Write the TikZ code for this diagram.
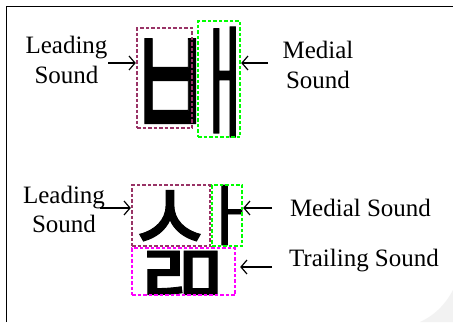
\documentclass[tikz,border=0pt]{standalone}
\usepackage{fontspec}
\setmainfont{Liberation Serif}
\newfontfamily\kr{Noto Sans CJK KR}[FakeBold=1]
\usetikzlibrary{arrows.meta}
\definecolor{leadc}{HTML}{993366}
\definecolor{medc}{HTML}{00FF00}
\definecolor{trailc}{HTML}{FF00FF}
% #1 ink width, #2 scaled box width, #3 total height, #4 char
\newcommand{\jamo}[4]{\makebox[#1pt]{\resizebox*{#2pt}{#3pt}{\kr #4}}}
\begin{document}
\begin{tikzpicture}[x=1pt,y=-1pt,
  lbl/.style={font=\fontsize{25}{29.5}\selectfont, inner sep=0pt, align=center},
  glyph/.style={inner sep=0pt, anchor=center},
  part/.style={draw=#1, line width=2.4pt, dash pattern=on 3.5pt off 2pt, inner sep=0pt},
  arr/.style={line width=1.2pt, -{Straight Barb[length=6pt,width=14pt]}}]
\useasboundingbox (0,0) rectangle (453,322);
\fill[white] (0,0) rectangle (453,322);
\fill[gray!10] (453,290) .. controls (445,305) and (435,315) .. (420,322) -- (453,322) -- cycle;
\draw[line width=1.5pt] (6.5,322) -- (6.5,6.5) -- (453,6.5);
% top syllable glyphs
\node[glyph] (gb) at (170,92.8) {\jamo{48}{83.5}{107.6}{ㅂ}};
\node[glyph] (gae) at (224,82) {\jamo{34}{64}{110}{ㅐ}};
% bottom syllable glyphs
\node[glyph] (gs) at (169.5,222) {\jamo{65}{87}{63}{ㅅ}};
\node[glyph] (ga) at (226.5,215) {\jamo{27}{64}{60}{ㅏ}};
\node[glyph] (glm) at (181.5,279) {\jamo{77}{99}{56}{ㄻ}};
% boxes
\node[part=leadc, minimum width=55pt, minimum height=100pt] (b1) at (164.5,78) {};
\node[part=medc, minimum width=42pt, minimum height=116pt] (b2) at (219,79) {};
\node[part=leadc, minimum width=78pt, minimum height=61pt] (b3) at (171,215.5) {};
\node[part=medc, minimum width=30pt, minimum height=61pt] (b4) at (227,215.5) {};
\node[part=trailc, minimum width=103pt, minimum height=47pt] (b5) at (183.5,271.5) {};
% labels
\node[lbl] (l1) at (66.5,60.1) {Leading\\Sound};
\node[lbl] (m1) at (318,64.9) {Medial\\Sound};
\node[lbl] (l2) at (64,209.3) {Leading\\Sound};
\node[lbl, anchor=base] (m2) at (360.5,216.7) {Medial Sound};
\node[lbl, anchor=base] (t2) at (364,266) {Trailing Sound};
% arrows
\coordinate (a1) at (108,63);
\coordinate (a2) at (268,63);
\coordinate (a3) at (100,208);
\coordinate (a4) at (272,208);
\coordinate (a5) at (272,267);
\draw[arr] (a1) -- (a1 -| b1.west);
\draw[arr] (a2) -- (a2 -| b2.east);
\draw[arr] (a3) -- (a3 -| b3.west);
\draw[arr] (a4) -- (a4 -| b4.east);
\draw[arr, shorten >=4pt] (a5) -- (a5 -| b5.east);
\end{tikzpicture}
\end{document}
